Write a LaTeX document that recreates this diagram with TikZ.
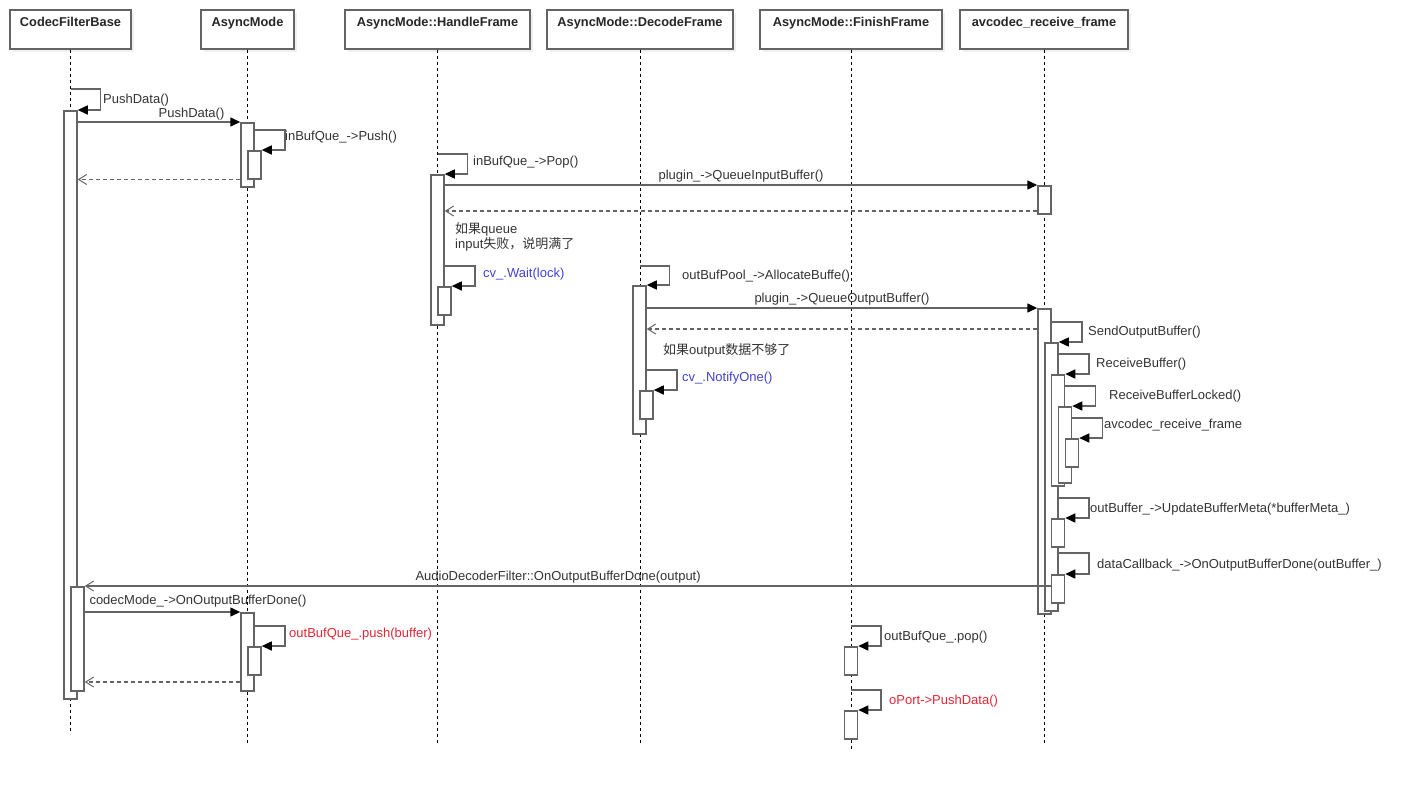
\documentclass[tikz,border=0pt]{standalone}
\usepackage{fontspec}
\setmainfont{Liberation Sans}
\newfontfamily\cjk{Noto Sans CJK SC}
\usetikzlibrary{arrows.meta,shadows}
\definecolor{lngray}{RGB}{100,100,100}
\definecolor{callblue}{RGB}{66,66,204}
\definecolor{callred}{RGB}{226,38,54}

\begin{document}
\begin{tikzpicture}[x=1pt,y=-1pt,
  font=\fontsize{13}{13}\selectfont,
  head/.style={draw=lngray,line width=1.5pt,fill=white,minimum height=39pt,text height=9.5pt,text depth=15pt,
    text=black!85,font=\fontsize{12.8}{13}\selectfont\bfseries,
    drop shadow={opacity=0.12,shadow xshift=3pt,shadow yshift=-3pt}},
  life/.style={black,line width=0.8pt,dash pattern=on 3pt off 3pt},
  bar/.style={draw=lngray,line width=1.5pt,fill=white,minimum width=13pt,inner sep=0pt,anchor=north},
  call/.style={lngray,line width=1.5pt,-{Triangle[length=10pt,width=9pt,color=black]}},
  async/.style={lngray,line width=1.5pt,-{Straight Barb[length=8pt,width=10pt,line width=1pt]}},
  ret/.style={lngray,line width=1.2pt,dash pattern=on 4pt off 3pt,-{Straight Barb[length=8pt,width=10pt,line width=1pt]}},
  msg/.style={inner sep=0pt,text=black!80,yshift=-2pt},
  lbl/.style={msg,anchor=west}]
\useasboundingbox (0,0) rectangle (1420,792);

\foreach \nm/\x/\w/\en/\lab in {cfb/70.5/121/732/CodecFilterBase, am/247.5/93/743/AsyncMode,
    hf/437.5/185/743/AsyncMode::HandleFrame, df/640/186/743/AsyncMode::DecodeFrame,
    ff/851/182/750/AsyncMode::FinishFrame, av/1044/168/743/avcodec\_receive\_frame}{
  \node[head,minimum width=\w pt] (\nm) at (\x,29.5) {\lab};
  \draw[life] (\nm.south) -- (\nm.south |- 0,\en);
}

\node[bar,minimum height=588pt] (cfbA) at (70.5,110) {};
\node[bar,minimum height=104pt] (cfbB) at (77.5,586) {};
\node[bar,minimum height=64pt] (amA) at (247.5,122) {};
\node[bar,minimum height=28pt] (amA2) at (254.5,150) {};
\node[bar,minimum height=78pt] (amB) at (247.5,612) {};
\node[bar,minimum height=28pt] (amB2) at (254.5,646) {};
\node[bar,minimum height=150pt] (hfA) at (437.5,174) {};
\node[bar,minimum height=28pt] (hfA2) at (444.5,286) {};
\node[bar,minimum height=148pt] (dfA) at (639.5,285) {};
\node[bar,minimum height=28pt] (dfA2) at (646.5,390) {};
\node[bar,minimum height=28pt] (ffA) at (851,646) {};
\node[bar,minimum height=28pt] (ffB) at (851,710) {};
\node[bar,minimum height=28pt] (avA) at (1044.5,185) {};
\node[bar,minimum height=305pt] (avB) at (1044.5,308) {};
\node[bar,minimum height=268pt] (avC) at (1051.5,342) {};
\node[bar,minimum height=111pt] (avD) at (1058,374) {};
\node[bar,minimum height=76pt] (avE) at (1065,406) {};
\node[bar,minimum height=28pt] (avF) at (1072,438) {};
\node[bar,minimum height=28pt] (avG) at (1058,518) {};
\node[bar,minimum height=28pt] (avH) at (1058,574) {};

\draw[call] (cfbA.north |- 0,89) -- ++(30,0) |- (cfbA.north east);
\node[lbl] (tPush0) at (103,98) {PushData()};
\draw[call] (cfbA.east |- amA.north) -- (amA.north west) node[msg,pos=0.7,above=3pt] (tPush) {PushData()};
\draw[call] (amA.east |- 0,130) -- ++(30,0) |- (amA2.north east);
\node[lbl] (tPush1) at (285,135) {inBufQue\_->Push()};
\draw[ret] (amA.west |- amA2.south) -- (cfbA.east |- amA2.south);

\draw[call] (hfA.north |- 0,154) -- ++(30,0) |- (hfA.north east);
\node[lbl] (tPop) at (473,160) {inBufQue\_->Pop()};
\draw[call] (hfA.east |- avA.north) -- (avA.north west) node[msg,midway,above=4pt] (tQIn) {plugin\_->QueueInputBuffer()};
\draw[ret] (avA.west |- 0,211) -- (hfA.east |- 0,211);
\node[lbl,align=left] (nFull) at (455,235) {{\cjk 如果}queue\\input{\cjk 失败，说明满了}};
\draw[call] (hfA.east |- 0,266) -- ++(30,0) |- (hfA2.north east);
\node[lbl,text=callblue] (tWait) at (483,272) {cv\_.Wait(lock)};

\draw[call] (dfA.north |- 0,266) -- ++(30,0) |- (dfA.north east);
\node[lbl] (tAlloc) at (682,274) {outBufPool\_->AllocateBuffe()};
\draw[call] (dfA.east |- avB.north) -- (avB.north west) node[msg,midway,above=4pt] (tQOut) {plugin\_->QueueOutputBuffer()};
\draw[ret] (avB.west |- 0,329) -- (dfA.east |- 0,329);
\node[lbl] (nLack) at (663,348) {{\cjk 如果}output{\cjk 数据不够了}};
\draw[call] (dfA.east |- 0,370) -- ++(30,0) |- (dfA2.north east);
\node[lbl,text=callblue] (tNotify) at (682,376) {cv\_.NotifyOne()};

\draw[call] (avB.east |- 0,322) -- ++(30,0) |- (avC.north east);
\node[lbl] (tSend) at (1088,330) {SendOutputBuffer()};
\draw[call] (avC.east |- 0,354) -- ++(30,0) |- (avD.north east);
\node[lbl] (tRecv) at (1096,362) {ReceiveBuffer()};
\draw[call] (avD.east |- 0,386) -- ++(30,0) |- (avE.north east);
\node[lbl] (tLocked) at (1109,394) {ReceiveBufferLocked()};
\draw[call] (avE.east |- 0,418) -- ++(30,0) |- (avF.north east);
\node[lbl] (tFrame) at (1104,423) {avcodec\_receive\_frame};
\draw[call] (avC.east |- 0,498) -- ++(30,0) |- (avG.north east);
\node[lbl] (tMeta) at (1090,507) {outBuffer\_->UpdateBufferMeta(*bufferMeta\_)};
\draw[call] (avC.east |- 0,553) -- ++(30,0) |- (avH.north east);
\node[lbl] (tDone) at (1097,563) {dataCallback\_->OnOutputBufferDone(outBuffer\_)};

\draw[async] (avH.west |- 0,586) -- (cfbB.north east) node[msg,pos=0.51,above=4pt] (tFilter) {AudioDecoderFilter::OnOutputBufferDone(output)};
\draw[call] (cfbB.east |- amB.north) -- (amB.north west) node[msg,pos=0,anchor=south west,xshift=4pt,yshift=6pt] (tCodec) {codecMode\_->OnOutputBufferDone()};
\draw[call] (amB.east |- 0,626) -- ++(30,0) |- (amB2.north east);
\node[lbl,text=callred] (tPushBuf) at (289,632) {outBufQue\_.push(buffer)};
\draw[ret] (amB.west |- 0,682) -- (cfbB.east |- 0,682);

\draw[call] (ffA.north |- 0,626) -- ++(30,0) |- (ffA.north east);
\node[lbl] (tPopBuf) at (884,635) {outBufQue\_.pop()};
\draw[call] (ffB.north |- 0,690) -- ++(30,0) |- (ffB.north east);
\node[lbl,text=callred] (tPort) at (889,699) {oPort->PushData()};
\end{tikzpicture}
\end{document}
